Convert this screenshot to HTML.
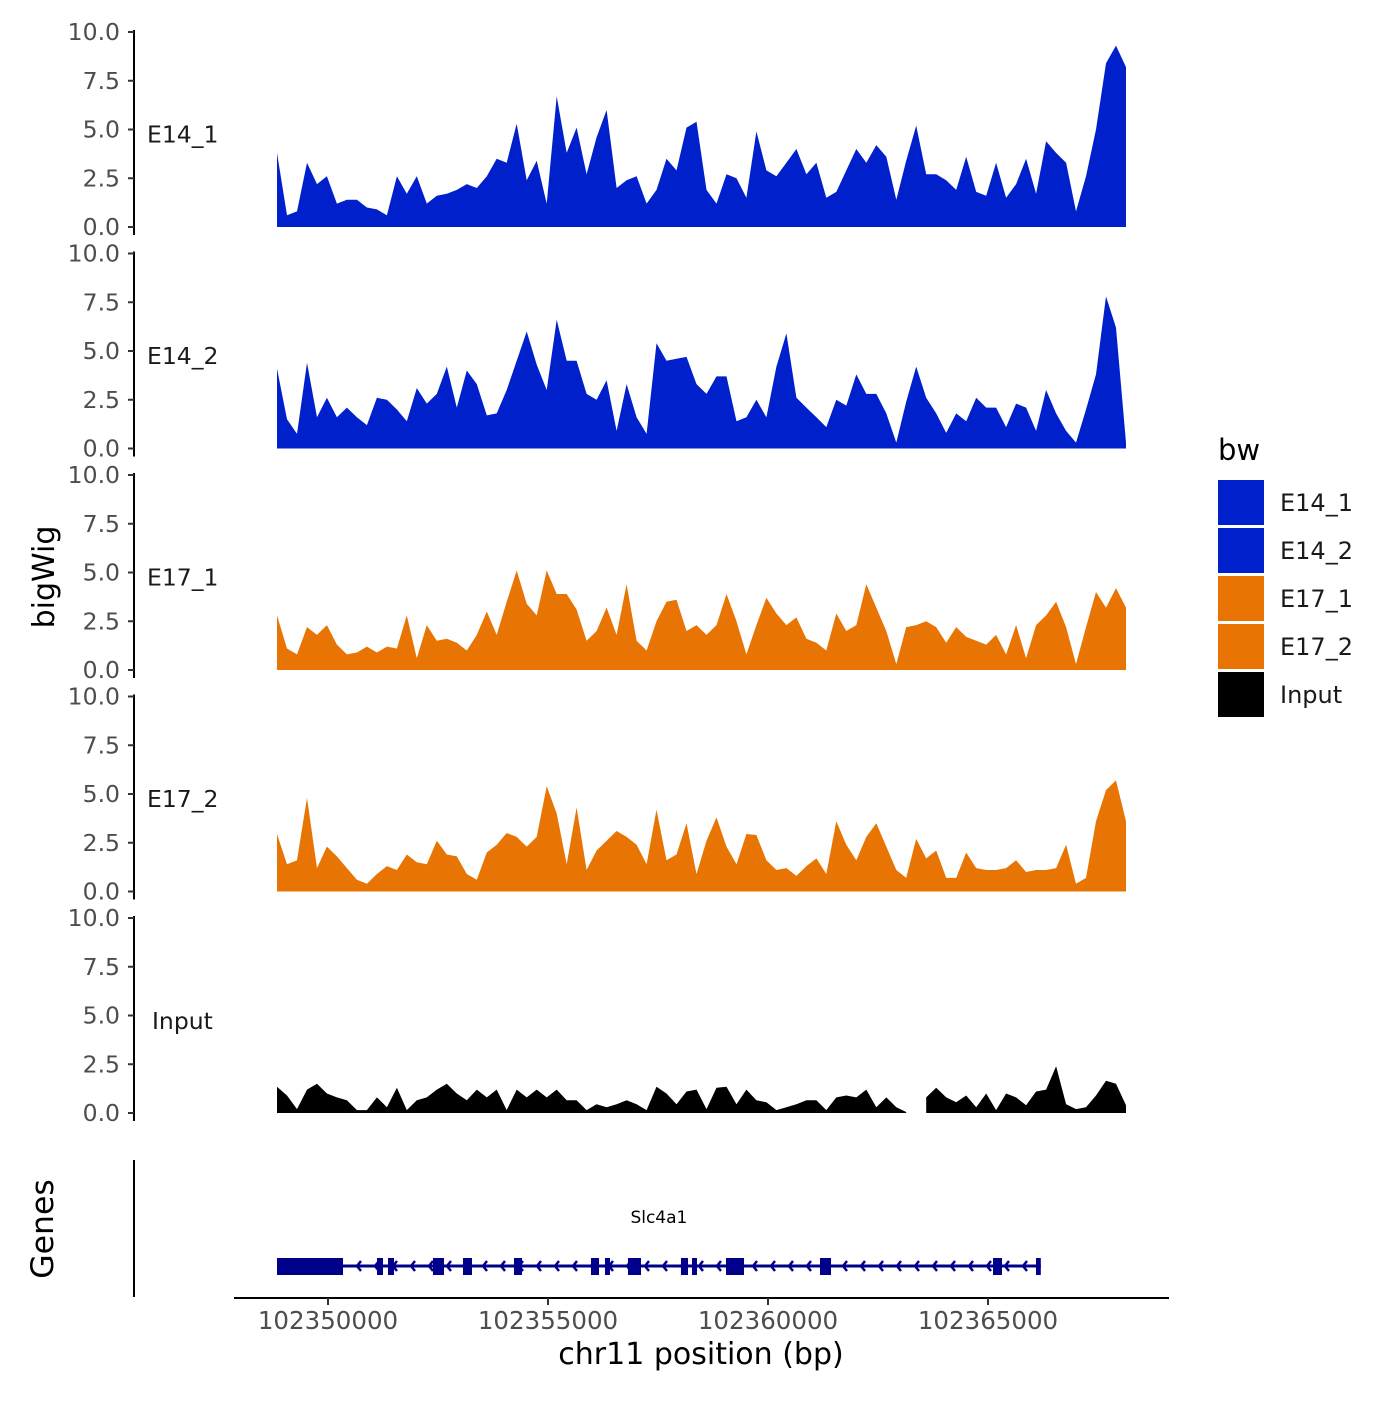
<!DOCTYPE html>
<html><head><meta charset="utf-8">
<style>
body{margin:0;background:#fff;}
svg text{font-family:"DejaVu Sans","Liberation Sans",sans-serif;}
</style></head>
<body>
<svg id="chart" width="1400" height="1400" viewBox="0 0 1400 1400" xmlns="http://www.w3.org/2000/svg"></svg>
<script>
// ---- data ----
const binStart = 102348841;
const binSize = 227;
const trackNames = ["E14_1","E14_2","E17_1","E17_2","Input"];
const trackColors = ["#0020CC","#0020CC","#E87503","#E87503","#000000"];
const yTicks = [0, 2.5, 5, 7.5, 10];
const yTickLabels = ["0.0","2.5","5.0","7.5","10.0"];
const xTicks = [102350000, 102355000, 102360000, 102365000];
const xTickLabels = ["102350000","102355000","102360000","102365000"];
const e14_1 = [3.8,0.6,0.8,3.3,2.2,2.6,1.2,1.4,1.4,1.0,0.9,0.6,2.6,1.7,2.6,1.2,1.6,1.7,1.9,2.2,2.0,2.6,3.5,3.3,5.3,2.4,3.4,1.2,6.7,3.8,5.1,2.7,4.6,6.0,2.0,2.4,2.6,1.2,1.9,3.5,2.9,5.1,5.4,1.9,1.2,2.7,2.5,1.5,4.9,2.9,2.6,3.3,4.0,2.7,3.3,1.5,1.8,2.9,4.0,3.3,4.2,3.6,1.4,3.4,5.2,2.7,2.7,2.4,1.9,3.6,1.8,1.6,3.3,1.5,2.2,3.5,1.7,4.4,3.8,3.3,0.8,2.6,5.0,8.4,9.3,8.2];
const e14_2 = [4.1,1.5,0.75,4.4,1.6,2.6,1.6,2.1,1.6,1.2,2.6,2.5,2.0,1.4,3.1,2.3,2.8,4.2,2.1,4.0,3.3,1.7,1.8,3.0,4.5,6.0,4.3,3.0,6.6,4.5,4.5,2.8,2.5,3.5,0.9,3.3,1.6,0.75,5.4,4.5,4.6,4.7,3.3,2.8,3.7,3.7,1.4,1.6,2.5,1.6,4.2,5.9,2.6,2.1,1.6,1.1,2.5,2.2,3.8,2.8,2.8,1.8,0.3,2.4,4.2,2.6,1.8,0.8,1.8,1.4,2.6,2.1,2.1,1.1,2.3,2.1,0.9,3.0,1.8,0.9,0.3,2.0,3.8,7.8,6.2,0.3];
const e17_1 = [2.8,1.1,0.8,2.2,1.8,2.3,1.3,0.8,0.9,1.2,0.9,1.2,1.1,2.8,0.6,2.3,1.5,1.6,1.4,1.0,1.8,3.0,1.8,3.5,5.1,3.4,2.8,5.1,3.9,3.9,3.1,1.5,2.0,3.2,1.8,4.4,1.5,1.0,2.5,3.5,3.6,2.0,2.3,1.8,2.3,3.9,2.5,0.8,2.3,3.7,2.9,2.3,2.7,1.6,1.4,1.0,2.9,2.0,2.3,4.4,3.2,2.0,0.3,2.2,2.3,2.5,2.2,1.4,2.2,1.7,1.5,1.3,1.8,0.8,2.3,0.6,2.3,2.8,3.5,2.2,0.3,2.2,4.0,3.2,4.2,3.2];
const e17_2 = [2.95,1.4,1.6,4.8,1.2,2.3,1.8,1.2,0.6,0.4,0.9,1.3,1.1,1.9,1.5,1.4,2.6,1.9,1.8,0.9,0.6,2.0,2.4,3.0,2.8,2.3,2.8,5.4,4.0,1.4,4.3,1.1,2.1,2.6,3.1,2.8,2.4,1.4,4.2,1.6,1.9,3.5,0.9,2.6,3.8,2.3,1.4,2.95,2.9,1.6,1.1,1.2,0.8,1.3,1.7,0.9,3.6,2.4,1.6,2.8,3.5,2.3,1.1,0.7,2.7,1.7,2.1,0.7,0.7,2.0,1.2,1.1,1.1,1.2,1.6,1.0,1.1,1.1,1.2,2.4,0.4,0.7,3.6,5.2,5.7,3.6];
const input = [1.35,0.9,0.2,1.2,1.5,1.0,0.8,0.65,0.15,0.15,0.8,0.3,1.3,0.15,0.65,0.8,1.2,1.5,1.0,0.65,1.2,0.8,1.2,0.15,1.2,0.8,1.2,0.8,1.2,0.65,0.65,0.15,0.45,0.3,0.45,0.65,0.45,0.15,1.35,1.0,0.45,1.1,1.2,0.2,1.3,1.35,0.45,1.2,0.65,0.55,0.15,0.3,0.45,0.65,0.65,0.15,0.8,0.9,0.8,1.2,0.3,0.8,0.3,0.05,null,0.8,1.3,0.8,0.55,0.9,0.3,1.0,0.15,1.0,0.8,0.4,1.1,1.2,2.4,0.45,0.2,0.3,0.9,1.65,1.5,0.4];
const trackValues = [e14_1, e14_2, e17_1, e17_2, input];
const geneName = "Slc4a1";
const geneStart = 102348841;
const geneEnd = 102366200;
const exonStarts = [102348841,102351114,102351364,102352386,102353068,102354227,102355977,102356295,102356818,102358022,102358273,102359045,102361182,102365114,102366091];
const exonEnds   = [102350341,102351250,102351500,102352636,102353273,102354409,102356159,102356409,102357114,102358182,102358386,102359455,102361432,102365318,102366200];

// ---- helpers ----
const NS = "http://www.w3.org/2000/svg";
const svg = document.getElementById("chart");
function mk(tag, attrs, parent){const e=document.createElementNS(NS,tag);for(const k in attrs)e.setAttribute(k,attrs[k]);(parent||svg).appendChild(e);return e;}
const xScale = bp => 328 + (bp - 102350000) * 0.044;
const panelZero = [227, 448.5, 670, 891.5, 1113];
const yUnit = 19.5;
const yScale = (p, v) => panelZero[p] - v * yUnit;

// ---- panels ----
for (let p = 0; p < trackNames.length; p++) {
  const g = mk("g", {});
  
  
  const vals = trackValues[p];
  let seg = [];
  const segs = [];
  for (let i = 0; i < vals.length; i++) {
    if (vals[i] === null) { if (seg.length) segs.push(seg); seg = []; continue; }
    seg.push([xScale(binStart + i * binSize), yScale(p, vals[i])]);
  }
  if (seg.length) segs.push(seg);
  for (const s of segs) {
    let d = "M" + s[0][0].toFixed(1) + "," + panelZero[p];
    for (const pt of s) d += "L" + pt[0].toFixed(1) + "," + pt[1].toFixed(1);
    d += "L" + s[s.length-1][0].toFixed(1) + "," + panelZero[p] + "Z";
    const a = mk("path", {d: d, fill: trackColors[p]}, g);
    
    
  }
  const ax = mk("line", {x1:134, x2:134, y1:yScale(p,10)-2, y2:panelZero[p]+8, stroke:"#000", "stroke-width":2}, g);
  
  
  for (let t = 0; t < yTicks.length; t++) {
    const y = yScale(p, yTicks[t]);
    mk("line", {x1:128, x2:134, y1:y, y2:y, stroke:"#333", "stroke-width":2}, g);
    const tl = mk("text", {x:120, y:y+8, "text-anchor":"end", "font-size":23.5, fill:"#4d4d4d"}, g);
    tl.textContent = yTickLabels[t];
    
    
  }
  const lab = mk("text", {x: trackNames[p]==="Input"?152:147, y: p===4?1029:yScale(p,5)+13, "font-size":23.5, fill:"#1a1a1a"}, g);
  lab.textContent = trackNames[p];
  
  
}

const yt = mk("text", {x:0, y:0, transform:"translate(54,577) rotate(-90)", "text-anchor":"middle", "font-size":30, fill:"#000"});
yt.textContent = "bigWig";



// gene track
const gg = mk("g", {});


const gt = mk("text", {x:0, y:0, transform:"translate(53,1229) rotate(-90)", "text-anchor":"middle", "font-size":31.5, fill:"#000"}, gg);
gt.textContent = "Genes";


mk("line", {x1:134, x2:134, y1:1160, y2:1297, stroke:"#000", "stroke-width":2}, gg);
const gx1 = xScale(geneStart), gx2 = xScale(geneEnd);
const gl = mk("line", {x1:gx1, x2:gx2, y1:1266, y2:1266, stroke:"#00008B", "stroke-width":3}, gg);


for (let x = gx1 + 80; x < gx2 - 4; x += 18) {
  mk("path", {d:"M"+(x+4)+",1261L"+x+",1266L"+(x+4)+",1271", fill:"none", stroke:"#00008B", "stroke-width":2.5}, gg);
}
for (let i = 0; i < exonStarts.length; i++) {
  const x1 = xScale(exonStarts[i]), x2 = xScale(exonEnds[i]);
  const r = mk("rect", {x:x1, y:1258, width:Math.max(2,x2-x1), height:17, fill:"#00008B"}, gg);
  
  
}
const gn = mk("text", {x:(gx1+gx2)/2, y:1223, "text-anchor":"middle", "font-size":17, fill:"#000"}, gg);
gn.textContent = geneName;



// x axis
const xa = mk("line", {x1:234, x2:1169, y1:1298, y2:1298, stroke:"#000", "stroke-width":2});


for (let t = 0; t < xTicks.length; t++) {
  const x = xScale(xTicks[t]);
  mk("line", {x1:x, x2:x, y1:1298, y2:1305, stroke:"#333", "stroke-width":2});
  const tl = mk("text", {x:x, y:1329, "text-anchor":"middle", "font-size":24.5, fill:"#4d4d4d"});
  tl.textContent = xTickLabels[t];
  
  
}
const xt = mk("text", {x:701, y:1364, "text-anchor":"middle", "font-size":30, fill:"#000"});
xt.textContent = "chr11 position (bp)";



// legend
const lg = mk("g", {});


const lt = mk("text", {x:1218, y:460, "font-size":29, fill:"#000"}, lg);
lt.textContent = "bw";


for (let i = 0; i < trackNames.length; i++) {
  const y = 480 + i * 48;
  const k = mk("rect", {x:1218, y:y, width:46, height:45, fill:trackColors[i]}, lg);
  
  
  const t = mk("text", {x:1280, y:y+31, "font-size":24, fill:"#1a1a1a"}, lg);
  t.textContent = trackNames[i];
  
  
}
</script>
</body></html>
